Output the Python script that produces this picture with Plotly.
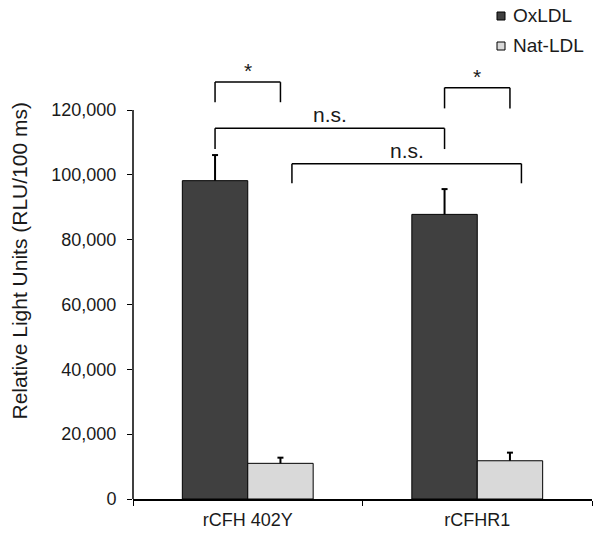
import plotly.graph_objects as go

categories = ["rCFH 402Y", "rCFHR1"]
series_names = ["OxLDL", "Nat-LDL"]
oxldl = [98200, 87800]
oxldl_err = [7900, 7800]
natldl = [11000, 11800]
natldl_err = [1750, 2500]
series_colors = ["#404040", "#d9d9d9"]
y_ticks = [0, 20000, 40000, 60000, 80000, 100000, 120000]
y_tick_labels = [f"{v:,}" for v in y_ticks]
y_title = "Relative Light Units (RLU/100 ms)"

# significance brackets: (group_a, series_a, group_b, series_b, top, leg_a, leg_b, label, nudge)
brackets = [
    (0, 0, 0, 1, 128600, 122400, 122400, "*", 0.0),
    (1, 0, 1, 1, 126900, 120500, 120500, "*", 0.0),
    (0, 0, 1, 0, 114350, 107950, 107950, "n.s.", 0.0),
    (0, 1, 1, 1, 103430, 97390, 97390, "n.s.", 0.05),
]

FONT = "Liberation Sans, Arial, sans-serif"
TXT = "#1a1a1a"
bargap = 0.43
bar_w = (1 - bargap) / 2

W, H = 601, 536
ML, MR, MT, MB = 133, 9, 24, 37
PW, PH = W - ML - MR, H - MT - MB


def px_x(p):
    return (p - ML) / PW


def px_y(p):
    return (H - MB - p) / PH


series = [
    (series_names[0], oxldl, oxldl_err, series_colors[0]),
    (series_names[1], natldl, natldl_err, series_colors[1]),
]

fig = go.Figure()
for name, vals, errs, col in series:
    fig.add_trace(go.Bar(
        name=name, x=categories, y=vals, showlegend=False,
        marker=dict(color=col, line=dict(color="black", width=1)),
        error_y=dict(type="data", array=errs, arrayminus=[0] * len(errs),
                     symmetric=False, color="black", thickness=2, width=0),
    ))


def bar_center(g, s):
    return g + (s - 0.5) * bar_w


shapes = []
annotations = []

# error bar caps (top only)
for s, (name, vals, errs, col) in enumerate(series):
    for g, (v, e) in enumerate(zip(vals, errs)):
        shapes.append(dict(type="line", xref="x", yref="y", xsizemode="pixel",
                           xanchor=bar_center(g, s), x0=-3, x1=3, y0=v + e, y1=v + e,
                           line=dict(color="black", width=2)))

for ga, sa, gb, sb, top, la, lb, label, nudge in brackets:
    xa = bar_center(ga, sa) + nudge
    xb = bar_center(gb, sb) + nudge
    line = dict(color="black", width=1.5)
    shapes.append(dict(type="line", xref="x", yref="y", x0=xa, x1=xb, y0=top, y1=top, line=line))
    shapes.append(dict(type="line", xref="x", yref="y", x0=xa, x1=xa, y0=la, y1=top, line=line))
    shapes.append(dict(type="line", xref="x", yref="y", x0=xb, x1=xb, y0=lb, y1=top, line=line))
    annotations.append(dict(
        x=(xa + xb) / 2, y=top, xref="x", yref="y", text=label, showarrow=False,
        yanchor="bottom", yshift=-2 if label == "*" else 0,
        font=dict(family=FONT, size=21, color=TXT),
    ))

# y axis line only up to the top tick
shapes.append(dict(type="line", xref="paper", yref="y", x0=0, x1=0, y0=0, y1=y_ticks[-1],
                   line=dict(color="black", width=1.5)))

# legend (custom, small squares)
for i, (name, vals, errs, col) in enumerate(series):
    cy = 16 + 30 * i
    shapes.append(dict(type="rect", xref="paper", yref="paper",
                       x0=px_x(497), x1=px_x(505), y0=px_y(cy + 4), y1=px_y(cy - 4),
                       fillcolor=col, line=dict(color="black", width=1)))
    annotations.append(dict(x=px_x(511), y=px_y(cy), xref="paper", yref="paper",
                            text=name, showarrow=False, xanchor="left", yanchor="middle",
                            font=dict(family=FONT, size=19, color=TXT)))

annotations.append(dict(
    x=px_x(19), y=0.5 * (px_y(100) + px_y(423)), xref="paper", yref="paper", text=y_title,
    textangle=-90, showarrow=False, xanchor="center", yanchor="middle",
    font=dict(family=FONT, size=21, color=TXT),
))

fig.update_layout(
    width=W, height=H,
    margin=dict(l=ML, r=MR, t=MT, b=MB),
    paper_bgcolor="white", plot_bgcolor="white",
    barmode="group", bargap=bargap, bargroupgap=0,
    font=dict(family=FONT, size=18, color=TXT),
    showlegend=False,
    xaxis=dict(type="category", range=[-0.5, 1.5], showline=True, linecolor="black",
               linewidth=1.5, ticks="outside", tickson="boundaries", ticklen=5,
               tickcolor="black", showgrid=False, zeroline=False, automargin=False,
               ticklabelstandoff=4,
               tickfont=dict(family=FONT, size=18, color=TXT)),
    yaxis=dict(range=[0, (H - MB - MT) / 3.2417 * 1000], showline=False, tickvals=y_ticks,
               ticktext=y_tick_labels, automargin=False,
               ticks="outside", ticklen=5, tickcolor="black", showgrid=False, zeroline=False,
               ticklabelstandoff=7,
               tickfont=dict(family=FONT, size=18, color=TXT)),
    shapes=shapes, annotations=annotations,
)

fig.write_html("out.html", config={"displayModeBar": False},
               post_script="document.body.style.margin='0';document.body.style.overflow='hidden';")
